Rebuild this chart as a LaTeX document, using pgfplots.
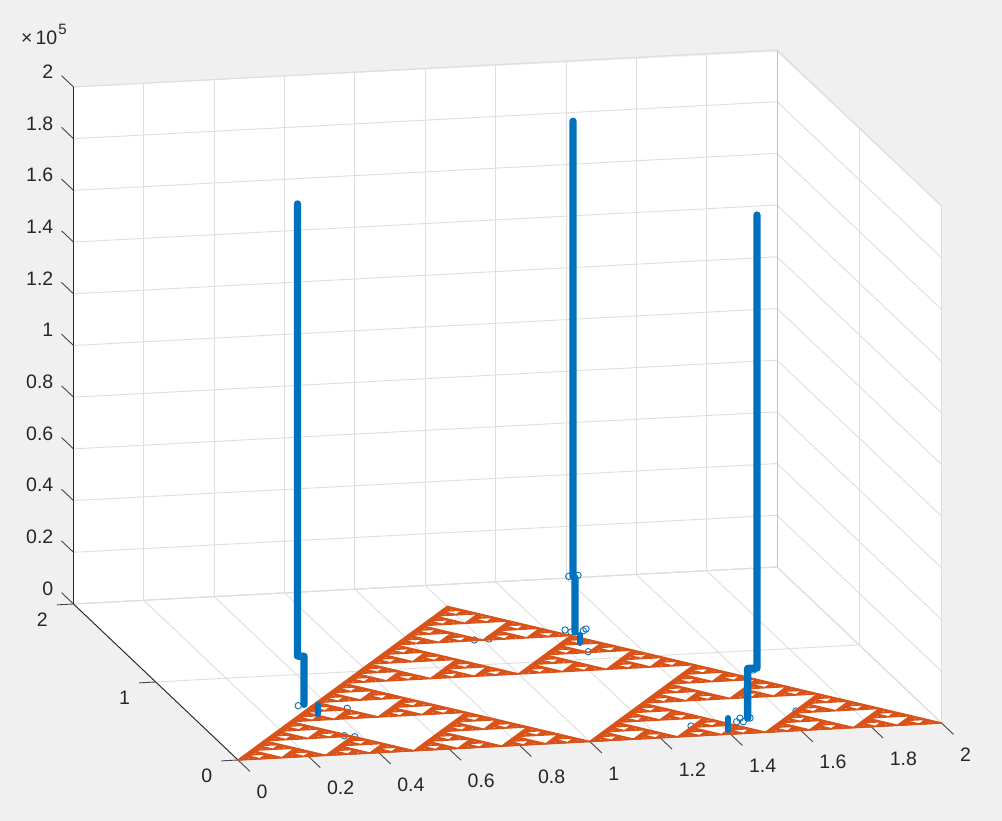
\documentclass[border=0pt]{standalone}
\usepackage{pgfplots}
\pgfplotsset{compat=1.18}
\usepackage{fontspec}
\setmainfont{Liberation Sans}
\definecolor{mblue}{RGB}{0,114,189}
\definecolor{morange}{RGB}{217,83,25}
\definecolor{mdark}{RGB}{38,38,38}
\definecolor{mtick}{RGB}{70,70,70}
\definecolor{mgrid}{RGB}{222,222,222}
\definecolor{mback}{RGB}{195,195,195}
\definecolor{mbg}{RGB}{240,240,240}
\newcommand{\HT}[6]{\pgfpathmoveto{\pgfpointxy{#1}{#2}}\pgfpathlineto{\pgfpointxy{#3}{#4}}\pgfpathlineto{\pgfpointxy{#5}{#6}}\pgfpathclose}
\pgfdeclareplotmark{sierp}{%
  \pgfsetxvec{\pgfqpoint{10.992pt}{0.578pt}}\pgfsetyvec{\pgfqpoint{3.27pt}{2.4pt}}%
  \pgfseteorule
  \HT{0}{0}{8}{0}{0}{8}%
  \HT{4}{0}{4}{4}{0}{4}%
  \HT{2}{0}{2}{2}{0}{2}\HT{6}{0}{6}{2}{4}{2}\HT{2}{4}{2}{6}{0}{6}%
  \HT{1}{0}{1}{1}{0}{1}\HT{3}{0}{3}{1}{2}{1}\HT{1}{2}{1}{3}{0}{3}%
  \HT{5}{0}{5}{1}{4}{1}\HT{7}{0}{7}{1}{6}{1}\HT{5}{2}{5}{3}{4}{3}%
  \HT{1}{4}{1}{5}{0}{5}\HT{3}{4}{3}{5}{2}{5}\HT{1}{6}{1}{7}{0}{7}%
  \pgfusepathqfillstroke}
\begin{document}
\begin{tikzpicture}[x=1pt,y=1pt]
\useasboundingbox (0,0) rectangle (1002,821);
\fill[mbg] (0,0) rectangle (1002,821);
\fill[white] (73.5,734) -- (776.5,769) -- (941.5,615) -- (941.5,98) -- (238,61) -- (73.5,217) -- cycle;
\begin{axis}[
  at={(238pt,61pt)}, anchor=origin,
  x={(351.75pt,18.5pt)}, y={(-82.25pt,78pt)}, z={(0pt,258.5pt)},
  xmin=0,xmax=2,ymin=0,ymax=2,zmin=0,zmax=2,
  clip=false,
  unbounded coords=jump,
  grid=major,
  grid style={line width=0.9pt,mgrid},
  axis line style={line width=0.9pt,mgrid},
  tick align=outside,
  tick pos=left,
  major tick length=16.5pt,
  tick style={draw=none},
  xtick={0,0.2,0.4,0.6,0.8,1,1.2,1.4,1.6,1.8,2},
  xticklabels={0,0.2,0.4,0.6,0.8,1,1.2,1.4,1.6,1.8,2},
  ytick={0,1,2}, yticklabels={0,1,2},
  ztick={0,0.2,0.4,0.6,0.8,1,1.2,1.4,1.6,1.8,2},
  zticklabels={0,0.2,0.4,0.6,0.8,1,1.2,1.4,1.6,1.8,2},
  tick label style={font=\fontsize{19.5}{19.5}\selectfont,text=mdark,inner sep=0pt},
  xticklabel style={anchor=west,xshift=6.5pt,yshift=-20.5pt},
  yticklabel style={anchor=east,xshift=-9pt,yshift=-15pt},
  zticklabel style={anchor=east,xshift=-8pt,yshift=4pt},
]
% back corner
\addplot3[mback,line width=0.9pt] coordinates {(2,2,0)(2,2,2)};
% small markers (below the gasket)
\addplot3[only marks,mark=o,mark size=3.2pt,mark options={draw=mblue,line width=0.9pt,fill=none}] coordinates {
 (0.3166,0.6211,0)(0.3496,0.5799,0)(0.3523,0.5703,0)(0.4412,0.5582,0)(0.3553,0.2273,0)(0.3805,0.2084,0)
 (1.2534,1.3395,0.2165)(1.2798,1.3395,0.2184)
 (1.25,1.3702,0)(1.2605,1.3421,0)(1.2973,1.35,0)(1.3094,1.369,0)(1.2511,1.0917,0)(0.9773,1.3066,0)(1.0198,1.3094,0)
 (1.6436,0.764,0)(1.452,0.1466,0)(1.4698,0.1424,0)(1.4705,0.1858,0)(1.4984,0.1831,0)(1.3168,0.1236,0)(1.6422,0.2387,0)
};
% axis rulers
\addplot3[mdark,line width=0.9pt] coordinates {(0,2,0)(0,2,2)};
\addplot3[mdark,line width=0.9pt] coordinates {(0,0,0)(0,2,0)};
\addplot3[mdark,line width=0.9pt] coordinates {(0,0,0)(2,0,0)};
% tick lines
\addplot3[mtick,line width=0.9pt] coordinates {
 (0,0,0)(0,-0.1455,0)(nan,nan,nan)(0.2,0,0)(0.2,-0.1455,0)(nan,nan,nan)(0.4,0,0)(0.4,-0.1455,0)(nan,nan,nan)
 (0.6,0,0)(0.6,-0.1455,0)(nan,nan,nan)(0.8,0,0)(0.8,-0.1455,0)(nan,nan,nan)(1,0,0)(1,-0.1455,0)(nan,nan,nan)
 (1.2,0,0)(1.2,-0.1455,0)(nan,nan,nan)(1.4,0,0)(1.4,-0.1455,0)(nan,nan,nan)(1.6,0,0)(1.6,-0.1455,0)(nan,nan,nan)
 (1.8,0,0)(1.8,-0.1455,0)(nan,nan,nan)(2,0,0)(2,-0.1455,0)
};
\addplot3[mtick,line width=0.9pt] coordinates {
 (0,0,0)(-0.0474,0,0)(nan,nan,nan)(0,1,0)(-0.0474,1,0)(nan,nan,nan)(0,2,0)(-0.0474,2,0)
};
\addplot3[mtick,line width=0.9pt] coordinates {
 (0,2,0)(0,2.1455,0)(nan,nan,nan)(0,2,0.2)(0,2.1455,0.2)(nan,nan,nan)(0,2,0.4)(0,2.1455,0.4)(nan,nan,nan)
 (0,2,0.6)(0,2.1455,0.6)(nan,nan,nan)(0,2,0.8)(0,2.1455,0.8)(nan,nan,nan)(0,2,1)(0,2.1455,1)(nan,nan,nan)
 (0,2,1.2)(0,2.1455,1.2)(nan,nan,nan)(0,2,1.4)(0,2.1455,1.4)(nan,nan,nan)(0,2,1.6)(0,2.1455,1.6)(nan,nan,nan)
 (0,2,1.8)(0,2.1455,1.8)(nan,nan,nan)(0,2,2)(0,2.1455,2)
};
% gasket
\addplot3[only marks,mark=sierp,mark options={draw=morange,fill=morange,line width=1.5pt,line join=round}] coordinates {
 (0,0,0)(0.25,0,0)(0.125,0.2165,0)(0.5,0,0)(0.75,0,0)(0.625,0.2165,0)(0.25,0.433,0)(0.5,0.433,0)(0.375,0.6495,0)
 (1,0,0)(1.25,0,0)(1.125,0.2165,0)(1.5,0,0)(1.75,0,0)(1.625,0.2165,0)(1.25,0.433,0)(1.5,0.433,0)(1.375,0.6495,0)
 (0.5,0.866,0)(0.75,0.866,0)(0.625,1.0825,0)(1,0.866,0)(1.25,0.866,0)(1.125,1.0825,0)(0.75,1.299,0)(1,1.299,0)(0.875,1.5155,0)
};
\end{axis}
\begin{axis}[
  at={(238pt,61pt)}, anchor=origin,
  x={(351.75pt,18.5pt)}, y={(-82.25pt,78pt)}, z={(0pt,258.5pt)},
  xmin=0,xmax=2,ymin=0,ymax=2,zmin=0,zmax=2,
  clip=false, hide axis,
]
% thick columns, above the gasket
\addplot3[mblue,line width=7.4pt,line cap=round,line join=round] coordinates {(0.3136,0.6179,1.942)(0.3136,0.6179,0.1934)(0.3321,0.6179,0.1909)(0.3321,0.6179,0.0052)};
\addplot3[mblue,line width=6pt,line cap=round] coordinates {(0.3461,0.5076,0)(0.3461,0.5076,0.035)};
\addplot3[mblue,line width=7.4pt,line cap=round,line join=round] coordinates {(1.2656,1.3395,1.976)(1.2656,1.3395,0.2162)(1.2713,1.3395,0.2089)(1.2713,1.3395,0)};
\addplot3[mblue,line width=6pt,line cap=round] coordinates {(1.2522,1.203,0)(1.2522,1.203,0.031)};
\addplot3[mblue,line width=7.4pt,line cap=round,line join=round] coordinates {(1.5185,0.1846,1.9435)(1.5185,0.1846,0.1915)(1.4921,0.1846,0.1915)(1.4921,0.1846,0)};
\addplot3[mblue,line width=6pt,line cap=round] coordinates {(1.4058,0.0511,0)(1.4058,0.0511,0.0464)};
\end{axis}
\node[anchor=base west,inner sep=0pt,text=mdark,font=\fontsize{19.5}{19.5}\selectfont] at (21,776) {×\kern3pt 10\kern1pt\raisebox{10pt}{\fontsize{15}{15}\selectfont 5}};
\end{tikzpicture}
\end{document}
